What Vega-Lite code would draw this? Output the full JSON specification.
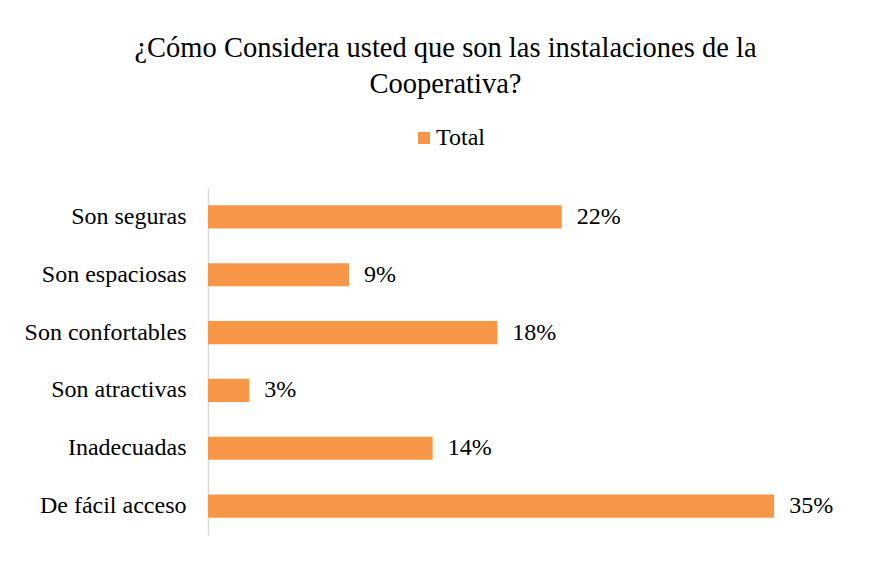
{
  "$schema": "https://vega.github.io/schema/vega-lite/v6.json",
  "autosize": {"type": "none"},
  "width": 647,
  "height": 347,
  "padding": {"left": 208, "top": 188, "right": 17, "bottom": 31},
  "background": "white",
  "title": {
    "text": ["¿Cómo Considera usted que son las instalaciones de la", "Cooperativa?"],
    "font": "Liberation Serif",
    "fontSize": 28.5,
    "fontWeight": "normal",
    "color": "#000000",
    "lineHeight": 36.6,
    "anchor": "middle",
    "frame": "group",
    "dx": -86,
    "offset": 27
  },
  "data": {
    "values": [
      {"categoria": "Son seguras", "valor": 0.2187, "serie": "Total"},
      {"categoria": "Son espaciosas", "valor": 0.0872, "serie": "Total"},
      {"categoria": "Son confortables", "valor": 0.1789, "serie": "Total"},
      {"categoria": "Son atractivas", "valor": 0.0255, "serie": "Total"},
      {"categoria": "Inadecuadas", "valor": 0.1389, "serie": "Total"},
      {"categoria": "De fácil acceso", "valor": 0.35, "serie": "Total"}
    ]
  },
  "encoding": {
    "y": {
      "field": "categoria",
      "type": "nominal",
      "sort": null,
      "title": null,
      "scale": {"paddingInner": 0.6, "paddingOuter": 0.3},
      "axis": {
        "domainColor": "#D9D9D9",
        "domainWidth": 1.5,
        "ticks": false,
        "labelPadding": 22,
        "labelFont": "Liberation Serif",
        "labelFontSize": 24,
        "labelColor": "#000000",
        "labelLimit": 400
      }
    },
    "x": {
      "field": "valor",
      "type": "quantitative",
      "scale": {"domain": [0, 0.4], "nice": false},
      "axis": null
    }
  },
  "layer": [
    {
      "mark": {"type": "bar", "color": "#F79646"},
      "encoding": {
        "color": {
          "field": "serie",
          "type": "nominal",
          "scale": {"range": ["#F79646"]},
          "legend": {
            "orient": "none",
            "legendX": 204,
            "legendY": -62,
            "title": null,
            "symbolType": "square",
            "symbolSize": 144,
            "symbolStrokeWidth": 0,
            "labelFont": "Liberation Serif",
            "labelFontSize": 24,
            "labelColor": "#000000",
            "labelOffset": 0,
            "padding": 0
          }
        }
      }
    },
    {
      "mark": {
        "type": "text",
        "align": "left",
        "baseline": "middle",
        "dx": 15,
        "font": "Liberation Serif",
        "fontSize": 24,
        "color": "#000000"
      },
      "encoding": {
        "text": {"field": "valor", "type": "quantitative", "format": ".0%"}
      }
    }
  ],
  "config": {
    "view": {"stroke": null}
  }
}
